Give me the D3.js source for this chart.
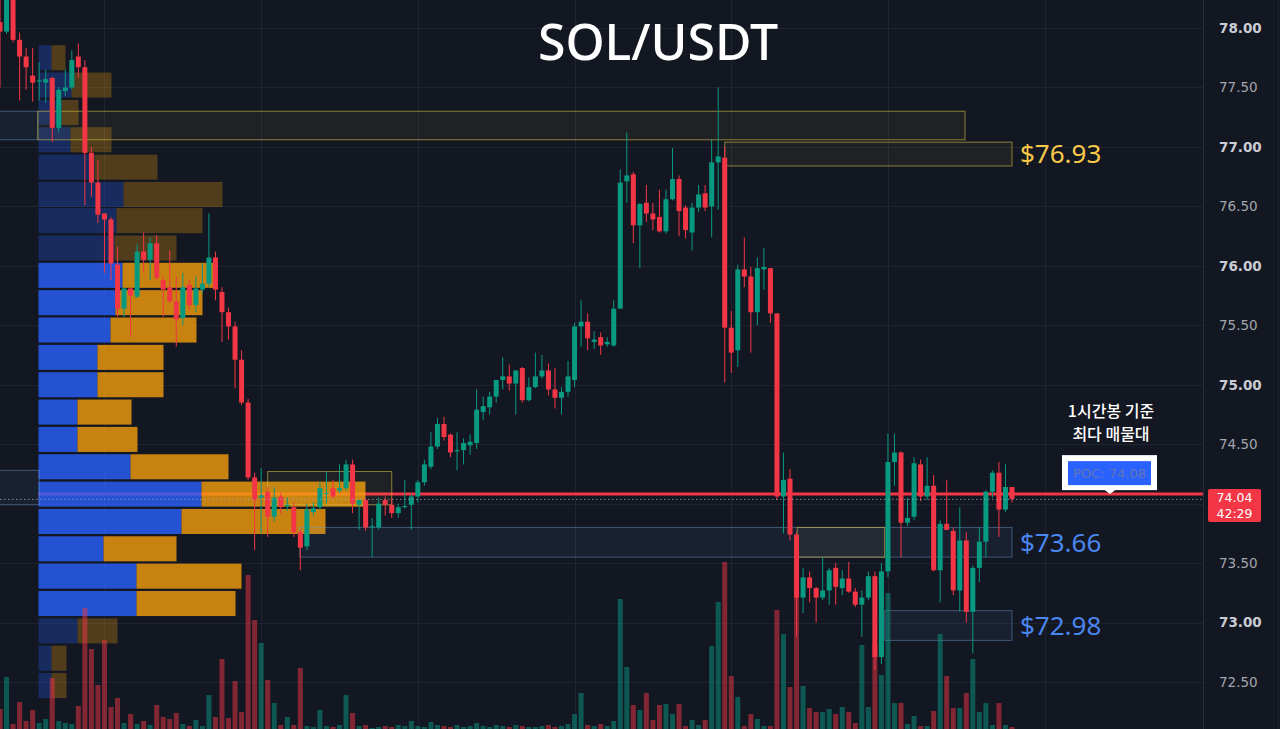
<!DOCTYPE html>
<html>
<head>
<meta charset="utf-8">
<script src="https://cdn.jsdelivr.net/npm/d3@7"></script>
<style>
html, body { margin: 0; padding: 0; background: #131722; }
svg { display: block; }
</style>
</head>
<body>
<div id="chart"></div>
<script>
// SOL/USDT 1h candles with volume profile (fixed range) and S/R zones

// --- DATA -------------------------------------------------------------
const opens = [78.05,77.97,78.30,77.90,77.76,77.60,77.55,77.54,77.58,77.16,
  77.47,77.50,77.76,77.67,76.95,76.70,76.44,76.39,76.01,75.64,
  75.81,75.74,76.12,76.05,76.19,75.88,75.82,75.70,75.56,75.84,
  75.67,75.80,75.85,76.07,75.78,75.61,75.49,75.21,74.85,74.22,
  74.05,74.10,73.89,74.06,73.98,73.97,73.76,73.64,73.93,73.97,
  74.08,74.13,74.11,74.13,74.33,73.99,74.03,73.80,73.80,74.03,
  73.99,73.92,73.97,73.99,74.06,74.18,74.31,74.48,74.67,74.58,
  74.44,74.45,74.49,74.51,74.77,74.81,74.90,75.04,75.07,75.01,
  75.14,74.87,74.98,75.07,75.12,74.96,74.89,74.94,75.04,75.49,
  75.53,75.36,75.40,75.34,75.33,75.64,76.71,76.77,76.34,76.53,
  76.44,76.41,76.29,76.56,76.73,76.49,76.28,76.49,76.61,76.50,
  76.87,76.91,75.48,75.29,75.97,75.91,75.61,75.97,75.98,75.60,
  74.06,74.21,73.74,73.21,73.38,73.29,73.21,73.27,73.46,73.29,
  73.37,73.26,73.15,73.21,73.39,72.71,73.43,74.35,74.43,73.84,
  73.89,74.33,74.06,74.15,73.44,73.83,73.77,73.27,73.69,73.09,
  73.46,73.68,74.10,74.26,73.95,74.14]

const highs = [78.30,78.36,78.36,77.96,77.83,77.83,77.71,77.65,77.59,77.50,
  77.65,77.81,77.87,77.73,77.00,76.89,76.44,76.41,76.16,75.82,
  75.81,76.18,76.28,76.24,76.26,75.91,76.13,75.91,75.94,75.88,
  75.91,76.02,76.44,76.12,75.82,75.65,75.53,75.29,74.88,74.26,
  74.30,74.14,74.14,74.09,74.05,74.01,73.78,74.00,74.01,74.18,
  74.27,74.20,74.33,74.37,74.37,74.03,74.05,73.88,74.05,74.06,
  74.05,74.00,74.20,74.08,74.20,74.37,74.60,74.72,74.73,74.59,
  74.60,74.55,74.58,74.96,74.90,74.94,75.04,75.23,75.17,75.12,
  75.15,75.06,75.27,75.25,75.18,75.14,74.98,75.20,75.52,75.71,
  75.60,75.45,75.44,75.40,75.71,76.81,77.12,76.79,76.53,76.68,
  76.53,76.64,76.64,76.99,76.76,76.51,76.53,76.68,76.68,77.06,
  77.50,77.00,75.62,76.01,76.24,75.99,76.07,76.15,75.98,75.60,
  74.43,74.29,73.76,73.46,73.43,73.30,73.55,73.46,73.50,73.44,
  73.51,73.29,73.27,73.43,73.43,73.50,74.59,74.59,74.44,74.05,
  74.39,74.37,74.39,74.24,73.86,74.20,73.80,73.97,73.76,73.48,
  73.80,74.11,74.28,74.35,74.33,74.14]

const lows = [77.50,77.95,77.88,77.39,77.48,77.38,77.39,77.37,77.04,77.12,
  77.43,77.48,77.58,76.51,76.58,76.36,75.94,75.88,75.57,75.57,
  75.40,75.73,75.94,75.88,75.88,75.57,75.69,75.32,75.50,75.63,
  75.61,75.77,75.82,75.71,75.36,75.38,74.97,74.83,74.20,73.61,
  73.75,73.72,73.85,73.92,73.94,73.72,73.44,73.61,73.90,73.95,
  74.00,74.04,74.09,74.11,73.92,73.78,73.77,73.55,73.78,73.90,
  73.88,73.88,73.96,73.78,74.01,74.15,74.29,74.46,74.53,74.39,
  74.28,74.33,74.41,74.46,74.70,74.75,74.85,74.96,74.95,74.75,
  74.85,74.86,74.97,75.05,74.91,74.80,74.75,74.90,74.98,75.32,
  75.29,75.30,75.25,75.32,75.32,75.64,76.53,76.19,75.98,76.37,
  76.30,76.28,76.27,76.55,76.25,76.23,76.13,76.45,76.46,76.24,
  76.47,75.02,75.10,75.15,75.82,75.27,75.50,75.80,75.52,74.03,
  73.75,73.69,72.88,73.08,73.17,73.00,73.19,73.15,73.15,73.23,
  73.25,73.13,72.88,73.19,72.60,72.65,73.38,74.15,73.55,73.81,
  73.86,74.02,74.03,73.43,73.17,73.78,73.23,73.09,73.00,72.74,
  73.34,73.55,74.05,73.72,73.93,74.01]

const closes = [77.97,78.30,77.90,77.76,77.67,77.54,77.56,77.57,77.16,77.48,
  77.50,77.73,77.67,76.95,76.70,76.43,76.39,76.02,75.64,75.81,
  75.75,76.12,76.05,76.19,75.90,75.80,75.70,75.55,75.82,75.67,
  75.81,75.85,76.07,75.80,75.61,75.49,75.21,74.85,74.22,74.03,
  74.07,73.89,74.05,73.97,73.99,73.76,73.63,73.95,73.96,74.13,
  74.09,74.06,74.13,74.33,74.00,74.03,73.80,73.81,74.00,73.99,
  73.92,73.97,73.98,74.06,74.18,74.33,74.48,74.67,74.56,74.43,
  74.45,74.51,74.52,74.79,74.82,74.90,75.04,75.07,75.01,75.12,
  74.87,74.98,75.07,75.12,74.96,74.89,74.94,75.07,75.49,75.53,
  75.39,75.38,75.33,75.36,75.64,76.70,76.76,76.34,76.52,76.44,
  76.39,76.29,76.56,76.73,76.46,76.30,76.49,76.60,76.49,76.87,
  76.92,75.48,75.27,75.97,75.91,75.61,75.98,75.99,75.60,74.06,
  74.20,73.74,73.21,73.38,73.29,73.21,73.27,73.44,73.30,73.37,
  73.26,73.15,73.21,73.39,72.71,73.43,74.35,74.43,73.84,73.88,
  74.34,74.06,74.15,73.44,73.83,73.78,73.27,73.69,73.09,73.46,
  73.68,74.10,74.26,73.95,74.14,74.04]

// volume, thousand SOL
const volumes = [20,52,5,27,8,19,6,10,51,8,
  6,5,23,121,80,44,89,22,31,6,
  15,5,8,4,24,12,10,16,5,3,
  9,3,34,12,70,11,48,17,154,109,
  86,49,26,4,12,4,61,3,2,19,
  3,2,4,34,16,3,4,1,2,3,
  2,4,3,8,3,2,7,4,3,2,
  4,2,3,6,3,2,4,3,2,4,
  3,2,2,3,4,2,3,5,15,36,
  4,3,5,3,8,130,62,24,19,36,
  9,24,25,15,25,3,9,4,9,83,
  127,167,53,32,3,15,10,3,3,119,
  95,42,150,43,21,17,17,20,15,22,
  17,6,84,22,84,54,136,26,26,5,
  13,3,3,18,95,53,21,21,36,70,
  17,26,4,26,4,2]

// candle index where each day starts (vertical grid)
const dayStarts = [16, 40, 64, 88, 112, 136, 160]
const priceTicks = [72.5, 73, 73.5, 74, 74.5, 75, 75.5, 76, 76.5, 77, 77.5, 78]

// volume profile rows (price level, up volume, down volume)
const vpLevels = [77.75,77.52,77.29,77.06,76.83,76.60,76.38,76.15,75.92,75.69,
  75.46,75.23,75.00,74.77,74.54,74.31,74.08,73.85,73.62,73.39,73.16,72.93,72.70,72.47]
const vpUp = [13,33,23,32,56,85,78,76,84,77,72,59,59,39,39,92,163,143,65,98,98,39,13,13]
const vpDown = [14,40,17,41,63,99,86,62,94,87,86,66,66,54,60,98,164,144,73,105,99,40,15,15]
const VA_LOW = 73.05, VA_HIGH = 76.03
const POC = 74.08

// zones: candle index range and price range
const zoneFrom = [-1, 5.8, 111, 41, -1, 45.9, 122.1, 135.5]
const zoneTo = [5.8, 147.8, 155, 60, 6, 155, 135.5, 155]
const zoneHigh = [77.30, 77.30, 77.04, 74.27, 74.28, 73.80, 73.80, 73.10]
const zoneLow = [77.06, 77.06, 76.84, 73.99, 73.99, 73.55, 73.55, 72.85]
const zoneType = ["demand", "supply", "supply", "supply", "demand", "demand", "supply", "demand"]

const levelText = ["$76.93", "$73.66", "$72.98"]
const levelPrice = [76.94, 73.675, 72.975]
const levelType = ["supply", "demand", "demand"]

const LAST_PRICE = 74.04
const COUNTDOWN = "42:29"

// --- LAYOUT -----------------------------------------------------------
const W = 1280, H = 729
const PLOT_RIGHT = 1203
const BG = "#131722"
const UP = "#089981", DOWN = "#f23645"

const x = d3.scaleLinear().domain([0, 155]).range([0, 1012])
const y = d3.scaleLinear().domain([72.5, 78]).range([682, 28])
const yVol = d3.scaleLinear().domain([0, 170]).range([H, H - 170])
const xVp = d3.scaleLinear().domain([0, 330]).range([38.5, 368.5])

const svg = d3.select("#chart").append("svg")
    .attr("width", W)
    .attr("height", H)
    .style("font-family", "'DejaVu Sans', sans-serif")

svg.append("rect").attr("width", W).attr("height", H).attr("fill", BG)

svg.append("clipPath").attr("id", "plot-clip")
  .append("rect").attr("x", 0).attr("y", 0).attr("width", PLOT_RIGHT).attr("height", H)

// --- grid
const grid = svg.append("g").attr("class", "grid")
grid.selectAll(".hgrid")
    .data(priceTicks)
    .enter().append("line")
    .attr("class", "hgrid")
    .attr("x1", 0).attr("x2", PLOT_RIGHT)
    .attr("y1", d => Math.round(y(d)) + 0.5)
    .attr("y2", d => Math.round(y(d)) + 0.5)
    .attr("stroke", "#1f2330")
grid.selectAll(".vgrid")
    .data(dayStarts)
    .enter().append("line")
    .attr("class", "vgrid")
    .attr("x1", d => Math.round(x(d)) + 0.5)
    .attr("x2", d => Math.round(x(d)) + 0.5)
    .attr("y1", 0).attr("y2", H)
    .attr("stroke", "#1f2330")

const plot = svg.append("g").attr("clip-path", "url(#plot-clip)")

// --- POC line (under the profile so it tints through)
plot.append("line")
    .attr("x1", xVp(0)).attr("x2", PLOT_RIGHT)
    .attr("y1", y(POC)).attr("y2", y(POC))
    .attr("stroke", DOWN)
    .attr("stroke-width", 3)

// --- volume profile
const rowH = Math.abs(y(vpLevels[1]) - y(vpLevels[0])) - 2.3
const inVA = p => p >= VA_LOW && p <= VA_HIGH
const vp = plot.append("g").attr("class", "vprofile")
vp.selectAll(".vp-up")
    .data(vpLevels)
    .enter().append("rect")
    .attr("class", "vp-up")
    .attr("x", xVp(0))
    .attr("y", d => y(d) - rowH / 2)
    .attr("width", (d, i) => xVp(vpUp[i]) - xVp(0))
    .attr("height", rowH)
    .attr("fill", "#2962ff")
    .attr("opacity", d => inVA(d) ? 0.8 : 0.28)
vp.selectAll(".vp-down")
    .data(vpLevels)
    .enter().append("rect")
    .attr("class", "vp-down")
    .attr("x", (d, i) => xVp(vpUp[i]))
    .attr("y", d => y(d) - rowH / 2)
    .attr("width", (d, i) => xVp(vpDown[i]) - xVp(0))
    .attr("height", rowH)
    .attr("fill", "#f59e0b")
    .attr("opacity", d => inVA(d) ? 0.8 : 0.28)

// --- zones
const zoneFill = {supply: "rgba(255, 228, 80, 0.05)", demand: "rgba(100, 150, 230, 0.08)"}
const zoneStroke = {supply: "rgba(214, 192, 72, 0.6)", demand: "rgba(120, 160, 210, 0.45)"}
plot.selectAll(".zone")
    .data(zoneFrom)
    .enter().append("rect")
    .attr("class", "zone")
    .attr("x", d => x(d))
    .attr("y", (d, i) => y(zoneHigh[i]))
    .attr("width", (d, i) => x(zoneTo[i]) - x(d))
    .attr("height", (d, i) => y(zoneLow[i]) - y(zoneHigh[i]))
    .attr("fill", (d, i) => zoneFill[zoneType[i]])
    .attr("stroke", (d, i) => zoneStroke[zoneType[i]])
    .attr("stroke-width", 1)

// --- candles + volume
const candles = opens.map((o, i) => ({i, o, h: highs[i], l: lows[i], c: closes[i], v: volumes[i]}))
const colorOf = d => d.c >= d.o ? UP : DOWN
const BODY_W = 5

plot.selectAll(".vol")
    .data(candles)
    .enter().append("rect")
    .attr("class", "vol")
    .attr("x", d => x(d.i) - BODY_W / 2)
    .attr("y", d => yVol(d.v))
    .attr("width", BODY_W)
    .attr("height", d => H - yVol(d.v))
    .attr("fill", colorOf)
    .attr("opacity", 0.5)

plot.selectAll(".wick")
    .data(candles)
    .enter().append("line")
    .attr("class", "wick")
    .attr("x1", d => x(d.i)).attr("x2", d => x(d.i))
    .attr("y1", d => y(d.h)).attr("y2", d => y(d.l))
    .attr("stroke", colorOf)
    .attr("stroke-width", 1)

plot.selectAll(".body")
    .data(candles)
    .enter().append("rect")
    .attr("class", "body")
    .attr("x", d => x(d.i) - BODY_W / 2)
    .attr("y", d => y(Math.max(d.o, d.c)))
    .attr("width", BODY_W)
    .attr("height", d => Math.max(1, Math.abs(y(d.o) - y(d.c))))
    .attr("fill", colorOf)

// --- last price dotted line
plot.append("line")
    .attr("x1", 0).attr("x2", PLOT_RIGHT)
    .attr("y1", y(LAST_PRICE) + 0.5).attr("y2", y(LAST_PRICE) + 0.5)
    .attr("stroke", "#a9aebb")
    .attr("stroke-opacity", 0.7)
    .attr("stroke-dasharray", "1.5,2.5")

// --- level labels
const levelColor = {supply: "#f7c948", demand: "#4a86f0"}
svg.selectAll(".level-label")
    .data(levelText)
    .enter().append("text")
    .attr("class", "level-label")
    .attr("x", x(155) + 8)
    .attr("y", (d, i) => y(levelPrice[i]))
    .attr("dy", "0.36em")
    .attr("font-family", "'Noto Sans', sans-serif")
    .attr("font-size", "26px")
    .attr("fill", (d, i) => levelColor[levelType[i]])
    .text(d => d)

// --- title
svg.append("text")
    .attr("x", 658)
    .attr("y", 42)
    .attr("dy", "0.36em")
    .attr("text-anchor", "middle")
    .attr("font-family", "'Noto Sans', sans-serif")
    .attr("font-size", "50px")
    .attr("font-weight", 500)
    .attr("fill", "#ffffff")
    .text("SOL/USDT")

// --- annotation: POC callout
const note = svg.append("g").attr("font-family", "'Noto Sans CJK KR', 'Noto Sans', sans-serif")
note.append("text")
    .attr("x", 1111).attr("y", 417)
    .attr("text-anchor", "middle")
    .attr("font-size", "16px").attr("font-weight", 500)
    .attr("fill", "#ffffff")
    .text("1시간봉 기준")
note.append("text")
    .attr("x", 1111).attr("y", 440)
    .attr("text-anchor", "middle")
    .attr("font-size", "16px").attr("font-weight", 500)
    .attr("fill", "#ffffff")
    .text("최다 매물대")

const pocY = y(POC)
note.append("rect")
    .attr("x", 1062).attr("y", pocY - 39)
    .attr("width", 95).attr("height", 35)
    .attr("fill", "#ffffff")
note.append("path")
    .attr("d", `M1104,${pocY - 4.5}L1116,${pocY - 4.5}L1110,${pocY}Z`)
    .attr("fill", "#ffffff")
note.append("rect")
    .attr("x", 1068).attr("y", pocY - 33)
    .attr("width", 83).attr("height", 24)
    .attr("fill", "#2962ff")
note.append("text")
    .attr("x", 1109.5).attr("y", pocY - 21)
    .attr("dy", "0.36em")
    .attr("text-anchor", "middle")
    .attr("font-family", "'DejaVu Sans', sans-serif")
    .attr("font-size", "13px")
    .attr("fill", "#6474b0")
    .text(`POC: ${POC.toFixed(2)}`)

// --- price axis
svg.append("line")
    .attr("x1", PLOT_RIGHT + 0.5).attr("x2", PLOT_RIGHT + 0.5)
    .attr("y1", 0).attr("y2", H)
    .attr("stroke", "#2a2e39")
svg.append("line")
    .attr("x1", W - 1.5).attr("x2", W - 1.5)
    .attr("y1", 0).attr("y2", H)
    .attr("stroke", "#1e222c")

// the last-price tag hides the tick label it sits on
const tickLabels = priceTicks.filter(d => Math.abs(y(d) - y(LAST_PRICE)) > 20)
const yAxisCall = d3.axisRight(y)
    .tickValues(tickLabels)
    .tickSize(0)
    .tickPadding(16)
    .tickFormat(d3.format(".2f"))
const yAxis = svg.append("g")
    .attr("class", "yaxis")
    .attr("transform", `translate(${PLOT_RIGHT}, 0)`)
    .call(yAxisCall)
yAxis.select(".domain").remove()
yAxis.selectAll("text")
    .attr("font-family", "'DejaVu Sans', sans-serif")
    .attr("font-size", "13.5px")
    .attr("fill", d => Number.isInteger(d) ? "#c9ccd4" : "#a3a6af")
    .attr("font-weight", d => Number.isInteger(d) ? "bold" : "normal")

// current price tag
const tag = svg.append("g")
tag.append("rect")
    .attr("x", PLOT_RIGHT + 5).attr("y", y(LAST_PRICE) - 10)
    .attr("width", 53).attr("height", 33)
    .attr("rx", 2)
    .attr("fill", DOWN)
tag.append("text")
    .attr("x", PLOT_RIGHT + 31.5).attr("y", y(LAST_PRICE) + 3.5)
    .attr("text-anchor", "middle")
    .attr("font-size", "12.5px")
    .attr("fill", "#ffffff")
    .text(LAST_PRICE.toFixed(2))
tag.append("text")
    .attr("x", PLOT_RIGHT + 31.5).attr("y", y(LAST_PRICE) + 19)
    .attr("text-anchor", "middle")
    .attr("font-size", "12.5px")
    .attr("fill", "#ffffff")
    .text(COUNTDOWN)
</script>
</body>
</html>
